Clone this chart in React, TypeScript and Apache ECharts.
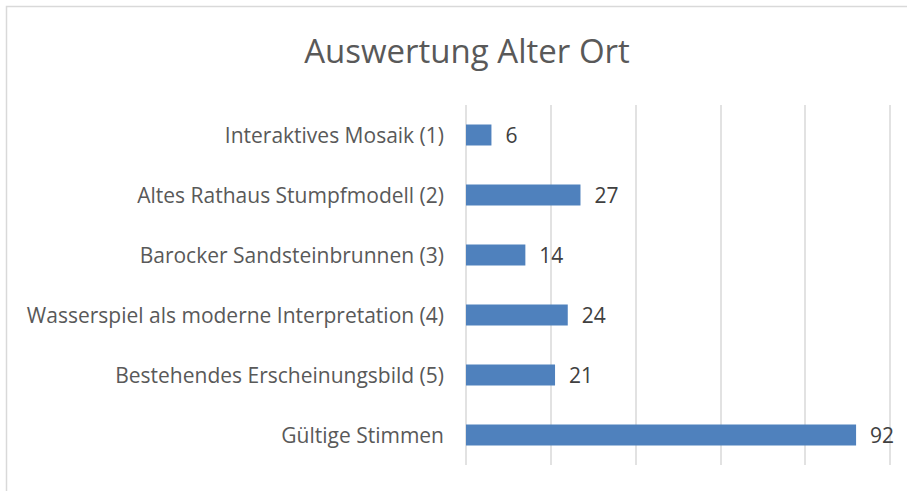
import React, { useEffect, useRef } from "react";
import * as echarts from "echarts";

const categories = [
  "Interaktives Mosaik (1)",
  "Altes Rathaus Stumpfmodell (2)",
  "Barocker Sandsteinbrunnen (3)",
  "Wasserspiel als moderne Interpretation (4)",
  "Bestehendes Erscheinungsbild (5)",
  "Gültige Stimmen",
];
const values = [6, 27, 14, 24, 21, 92];
const titleText = "Auswertung Alter Ort";

export default function App() {
  const ref = useRef<HTMLDivElement>(null);
  useEffect(() => {
    if (!ref.current) return;
    const chart = echarts.init(ref.current, undefined, { renderer: "svg" });
    const font = "'Open Sans', 'Noto Sans', sans-serif";
    chart.setOption({
      animation: false,
      backgroundColor: "#ffffff",
      title: {
        text: titleText,
        left: 462,
        textAlign: "center",
        top: 29,
        textStyle: { fontFamily: font, fontSize: 33, fontWeight: "normal", color: "#595959" },
      },
      graphic: [
        {
          type: "rect",
          shape: { x: 6.5, y: 6.5, width: 1200, height: 1200 },
          style: { fill: "none", stroke: "#d9d9d9", lineWidth: 1.5 },
          silent: true,
        },
      ],
      grid: { left: 466, right: 17, top: 105, bottom: 26, containLabel: false },
      xAxis: {
        type: "value",
        min: 0,
        max: 100,
        interval: 20,
        axisLabel: { show: false },
        axisLine: { show: false },
        axisTick: { show: false },
        splitLine: { show: true, lineStyle: { color: "#d9d9d9", width: 1.5 } },
      },
      yAxis: {
        type: "category",
        inverse: true,
        data: categories,
        axisLine: { show: false },
        axisTick: { show: false },
        axisLabel: { fontFamily: font, fontSize: 21, color: "#595959", margin: 22 },
      },
      series: [
        {
          type: "bar",
          data: values,
          barWidth: "35%",
          itemStyle: { color: "#4f81bd" },
          label: {
            show: true,
            position: "right",
            distance: 14,
            fontFamily: font,
            fontSize: 21,
            color: "#404040",
          },
        },
      ],
    });
    return () => chart.dispose();
  }, []);
  return (
    <div
      ref={ref}
      style={{ position: "fixed", left: 0, top: 0, width: 907, height: 491 }}
    />
  );
}
